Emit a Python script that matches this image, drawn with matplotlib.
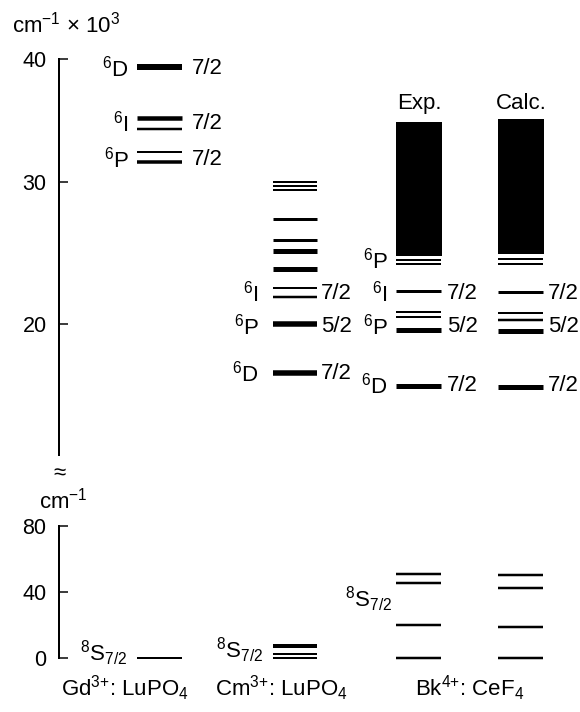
import numpy as np
import matplotlib
matplotlib.use("Agg")
import matplotlib.pyplot as plt
from matplotlib.ticker import NullLocator

plt.rcParams['font.family'] = ['Liberation Sans', 'DejaVu Sans']
plt.rcParams['mathtext.fontset'] = 'custom'
plt.rcParams['mathtext.rm'] = 'Liberation Sans'
plt.rcParams['mathtext.it'] = 'Liberation Sans'
plt.rcParams['mathtext.bf'] = 'Liberation Sans:bold'
plt.rcParams['mathtext.default'] = 'regular'

# ---------------- data (upper panel: cm^-1 x 10^3) ----------------
gd_levels = [39.35, 35.2, 34.3, 32.45, 31.65]
cm_levels = [30.0, 29.72, 29.47, 27.4, 25.92, 25.12, 23.87, 22.5, 21.9, 20.0, 16.55]
bk_exp_band = [24.79, 34.88]
bk_calc_band = [24.93, 35.12]
bk_exp_levels = [24.51, 24.23, 22.32, 20.85, 20.49, 19.58, 15.63]
bk_calc_levels = [24.58, 24.23, 22.25, 20.77, 20.28, 19.51, 15.56]

# term labels: (left text, right text, energy)
gd_terms = [("$^6$D", "7/2", 39.2), ("$^6$I", "7/2", 34.78), ("$^6$P", "7/2", 31.8)]
cm_terms = [("$^6$I", "7/2", 22.13), ("$^6$P", "5/2", 19.8), ("$^6$D", "7/2", 16.51)]
bk_terms = [("$^6$P", "", 24.45), ("$^6$I", "7/2", 22.17), ("$^6$P", "5/2", 19.82), ("$^6$D", "7/2", 15.67)]

# ---------------- data (lower panel: cm^-1) ----------------
gd_ground = [0.0]
cm_ground = [7.7, 2.6, 0.0]
bk_exp_ground = [50.7, 45.5, 20.0, 0.0]
bk_calc_ground = [50.3, 42.7, 19.0, 0.0]
ground_label = "$^8$S$_{7/2}$"
bk_ground_label_y = 31.0

upper_ticks = [20, 30, 40]
lower_ticks = [0, 40, 80]
hosts = ["Gd$^{3{+}}$: LuPO$_4$", "Cm$^{3{+}}$: LuPO$_4$", "Bk$^{4{+}}$: CeF$_4$"]
column_titles = ["Exp.", "Calc."]

# ---------------- styles (line thickness in px) ----------------
gd_lw = [6, 4.5, 2.5, 2, 3.5]
cm_lw = [2, 2, 2, 3, 3, 5, 5, 2, 2.5, 5.5, 5.5]
bk_exp_lw = [2, 2, 3, 2, 2, 5, 5]
bk_calc_lw = [2, 2, 3, 2, 2.5, 5, 5]
cm_ground_lw = [4, 2, 2]
bk_ground_lw = [2.5, 2.5, 2.5, 2.5]

W, H = 580, 712
PT = 0.72  # px -> pt at dpi 100
FS = 16

# column x extents (pixel-like data units)
GD_X = (137, 182)
CM_X = (273, 317)
BKE_X = (396, 441)
BKC_X = (498, 543)
SPINE_X = 59

fig = plt.figure(figsize=(W / 100, H / 100), dpi=100)


def fy(px):
    return 1 - px / H


# upper axis: piecewise scale (original figure spacing 40-30 narrower than 30-20)
def fwd(v):
    v = np.asarray(v, float)
    return np.where(v >= 30, 30 + (v - 30) * 0.866, v)


def inv(p):
    p = np.asarray(p, float)
    return np.where(p >= 30, 30 + (p - 30) / 0.866, p)


top_px, bot_px = 59, 455
ax1 = fig.add_axes([0, fy(bot_px), 1, (bot_px - top_px) / H])
ax1.set_yscale('function', functions=(fwd, inv))
ax1.set_ylim(10.775, 40)

lo0_px, lo80_px = 658.3, 526
ax2 = fig.add_axes([0, fy(lo0_px), 1, (lo0_px - lo80_px) / H])
ax2.set_ylim(0, 80)

for ax, ticks in ((ax1, upper_ticks), (ax2, lower_ticks)):
    ax.set_xlim(0, W)
    ax.patch.set_alpha(0)
    for s in ('top', 'right', 'bottom'):
        ax.spines[s].set_visible(False)
    ax.spines['left'].set_position(('data', SPINE_X))
    ax.spines['left'].set_linewidth(2 * PT)
    ax.set_xticks([])
    ax.set_yticks(ticks)
    ax.yaxis.set_minor_locator(NullLocator())
    ax.tick_params(axis='y', direction='in', length=9 * PT, width=1.5 * PT,
                   pad=9, labelsize=15.5)


def levels(ax, ys, xr, lws):
    ax.hlines(ys, xr[0], xr[1], colors='black', linewidth=[l * PT for l in lws],
              clip_on=False)


levels(ax1, gd_levels, GD_X, gd_lw)
levels(ax1, cm_levels, CM_X, cm_lw)
levels(ax1, bk_exp_levels, BKE_X, bk_exp_lw)
levels(ax1, bk_calc_levels, BKC_X, bk_calc_lw)
for band, xr in ((bk_exp_band, BKE_X), (bk_calc_band, BKC_X)):
    ax1.bar((xr[0] + xr[1]) / 2, band[1] - band[0], bottom=band[0],
            width=xr[1] - xr[0] + 1, color='black', linewidth=0, clip_on=False)

for left, right, y in gd_terms:
    ax1.text(129, y, left, ha='right', va='center', fontsize=FS)
    ax1.text(192, y, right, ha='left', va='center', fontsize=FS)
for left, right, y in cm_terms:
    ax1.text(259, y, left, ha='right', va='center', fontsize=FS)
    ax1.text(321, y, right, ha='left', va='center', fontsize=FS)
for left, right, y in bk_terms:
    ax1.text(388, y, left, ha='right', va='center', fontsize=FS)
    if right:
        ax1.text(447, y, right, ha='left', va='center', fontsize=FS)
        ax1.text(548, y, right, ha='left', va='center', fontsize=FS)

ax1.text(419.5, 36.4, column_titles[0], ha='center', va='center', fontsize=FS)
ax1.text(521.5, 36.4, column_titles[1], ha='center', va='center', fontsize=FS)

levels(ax2, gd_ground, GD_X, [2])
levels(ax2, cm_ground, CM_X, cm_ground_lw)
levels(ax2, bk_exp_ground, BKE_X, bk_ground_lw)
levels(ax2, bk_calc_ground, BKC_X, bk_ground_lw)

ax2.text(127, -1.5, ground_label, ha='right', va='baseline', fontsize=FS)
ax2.text(263, 0.0, ground_label, ha='right', va='baseline', fontsize=FS)
ax2.text(392, bk_ground_label_y, ground_label, ha='right', va='baseline', fontsize=FS)

# axis unit labels and break mark
fig.text(12 / W, fy(25), "cm$^{-1}$ × 10$^3$", ha='left', va='center', fontsize=FS)
fig.text(63.5 / W, fy(501), "cm$^{-1}$", ha='center', va='center', fontsize=FS)
fig.text(59.5 / W, fy(474), "≈", ha='center', va='center', fontsize=16)

# host labels
for x, lab in zip((125, 281, 469.5), hosts):
    fig.text(x / W, fy(688), lab, ha='center', va='center', fontsize=FS)

fig.savefig("out.png", dpi=100)
